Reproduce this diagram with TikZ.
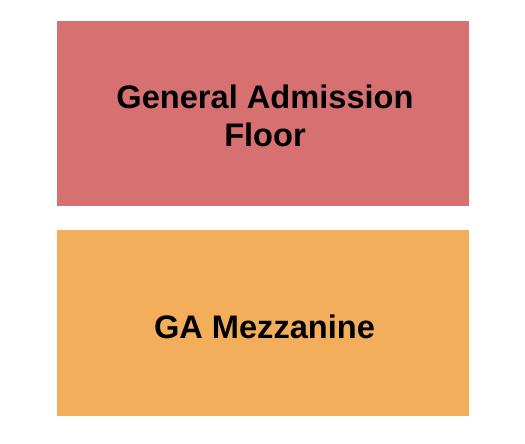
\documentclass[tikz,border=0pt]{standalone}
\usepackage{fontspec}
\setmainfont{Liberation Sans}
\definecolor{gafloor}{HTML}{D77171}
\definecolor{gamezz}{HTML}{F3AE5B}
\definecolor{labelink}{HTML}{000000}
\begin{document}
\begin{tikzpicture}[x=1pt,y=-1pt,
  section/.style={draw=none,inner sep=0pt,outer sep=0pt,minimum width=412pt},
  sectlabel/.style={inner sep=0pt,anchor=base,text=labelink,font=\fontsize{32.6}{39}\selectfont\bfseries}]
\useasboundingbox[fill=white] (0,0) rectangle (525,444);
\node[section,fill=gafloor,minimum height=184.5pt] (floor) at (263,113.25) {};
\node[section,fill=gamezz,minimum height=185.5pt] (mezz) at (263,322.75) {};
\node[sectlabel] (floorA) at (265,108.5) {General Admission};
\node[sectlabel] (floorB) at (265,146.7) {Floor};
\node[sectlabel] (mezzA) at (264.5,338.5) {GA Mezzanine};
\end{tikzpicture}
\end{document}
